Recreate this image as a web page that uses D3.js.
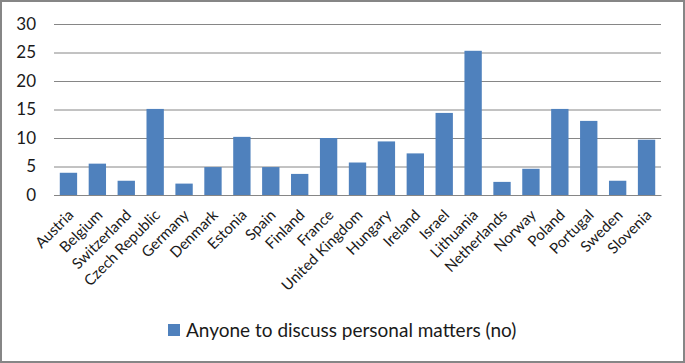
<!DOCTYPE html>
<html>
<head>
<meta charset="utf-8">
<script src="https://cdn.jsdelivr.net/npm/d3@7"></script>
<style>
  body { margin: 0; background: #fff; }
  svg text { font-family: Lato, "Open Sans", sans-serif; fill: #1a1a1a; }
</style>
</head>
<body>
<svg id="chart"></svg>
<script>
// data
const countries = ['Austria', 'Belgium', 'Switzerland', 'Czech Republic', 'Germany', 'Denmark',
  'Estonia', 'Spain', 'Finland', 'France', 'United Kingdom', 'Hungary', 'Ireland', 'Israel',
  'Lithuania', 'Netherlands', 'Norway', 'Poland', 'Portugal', 'Sweden', 'Slovenia'];
const values = [3.9, 5.5, 2.5, 15.1, 2.0, 4.9, 10.2, 4.9, 3.7, 10.0, 5.7, 9.4, 7.3, 14.4,
  25.3, 2.3, 4.6, 15.1, 13.0, 2.5, 9.7];
const yTicks = [0, 5, 10, 15, 20, 25, 30];
const seriesName = 'Anyone to discuss personal matters (no)';

const width = 685, height = 363;
const margin = {top: 24, right: 24, bottom: 168, left: 54};
const innerW = width - margin.left - margin.right;
const innerH = height - margin.top - margin.bottom;

const svg = d3.select('#chart')
    .attr('width', width)
    .attr('height', height);

// outer frame
svg.append('rect')
    .attr('x', 1).attr('y', 1)
    .attr('width', width - 2).attr('height', height - 2)
    .attr('fill', '#fff')
    .attr('stroke', '#868686')
    .attr('stroke-width', 2);

const chart = svg.append('g')
    .attr('transform', `translate(${margin.left},${margin.top})`);

const xScale = d3.scaleBand()
    .domain(countries)
    .range([0, innerW])
    .paddingInner(0.4)
    .paddingOuter(0.2);

const yScale = d3.scaleLinear()
    .domain([0, 30])
    .range([innerH, 0]);

// gridlines + y labels
const yAxis = d3.axisLeft(yScale)
    .tickValues(yTicks)
    .tickSize(-innerW)
    .tickPadding(18)
    .tickFormat(d => d);

chart.append('g')
    .attr('class', 'y-axis')
    .call(yAxis)
    .call(g => g.select('.domain').remove())
    .call(g => g.selectAll('.tick line').attr('stroke', '#868686').attr('stroke-width', 1))
    .call(g => g.selectAll('.tick text').attr('font-size', 17).attr('fill', '#1a1a1a'));

// bars
chart.selectAll('.bar')
    .data(values)
  .join('rect')
    .attr('class', 'bar')
    .attr('x', (d, i) => xScale(countries[i]))
    .attr('y', d => yScale(d))
    .attr('width', xScale.bandwidth())
    .attr('height', d => innerH - yScale(d))
    .attr('fill', '#4f81bd');

// x axis
const xAxis = d3.axisBottom(xScale).tickSize(0).tickPadding(0);
chart.append('g')
    .attr('class', 'x-axis')
    .attr('transform', `translate(0,${innerH})`)
    .call(xAxis)
    .call(g => g.select('.domain').attr('stroke', '#868686'))
    .call(g => g.selectAll('.tick text')
        .attr('font-size', 15)
        .attr('fill', '#1a1a1a')
        .attr('text-anchor', 'end')
        .attr('dy', 0)
        .attr('transform', 'translate(6,21) rotate(-45)'));

// legend
const legend = svg.append('g')
    .attr('transform', 'translate(168,324)');
legend.append('rect')
    .attr('width', 12).attr('height', 12)
    .attr('fill', '#4f81bd');
legend.append('text')
    .attr('x', 18).attr('y', 13)
    .attr('font-size', 19)
    .text(seriesName);
</script>
</body>
</html>
